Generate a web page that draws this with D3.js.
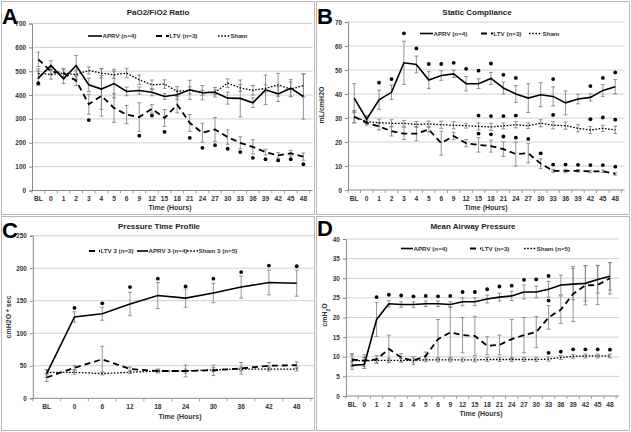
<!DOCTYPE html>
<html><head><meta charset="utf-8">
<script src="https://cdn.jsdelivr.net/npm/d3@7/dist/d3.min.js"></script>
<style>
html,body{margin:0;padding:0;background:#fff;}
svg{display:block;font-family:"Liberation Sans",Arial,sans-serif;}
</style></head><body>
<svg id="c" width="631" height="432"></svg>
<script>
// ---------- DATA ----------
const catsLong = ["BL","0","1","2","3","4","5","6","9","12","15","18","21","24","27","30","33","36","39","42","45","48"];
const catsC = ["BL","0","6","12","18","24","30","36","42","48"];

// Panel A: PaO2/FiO2 Ratio
const yTicksA = [0,100,200,300,400,500,600,700];
const aprvA = [471,524,468,524,443,425,448,415,419,412,394,401,422,410,412,387,386,368,422,405,429,394];
const aprvAErr = [30,20,20,42,28,85,60,18,15,15,12,20,40,30,20,25,77,20,62,32,36,95];
const ltvA = [550,499,492,460,362,397,346,318,308,342,304,360,283,242,256,224,200,183,161,147,156,142];
const ltvAErr = [30,15,15,20,42,85,60,38,60,18,35,35,35,40,50,30,25,30,12,12,12,15];
const shamA = [490,487,492,486,503,492,485,492,464,443,446,415,420,410,412,450,430,420,428,443,425,440];
const shamAErr = [20,20,20,20,15,20,15,20,20,20,18,20,15,10,10,18,15,20,15,48,30,48];
const dotsACats = ["BL","3","9","12","15","21","24","27","30","33","36","39","42","45","48"];
const dotsAVals = [450,295,230,314,246,221,179,190,175,161,137,131,126,131,110];

// Panel B: Static Compliance
const yTicksB = [0,10,20,30,40,50,60,70];
const aprvB = [38.3,29.5,37.6,40.7,53,52.3,45.8,47.7,48.4,44.3,44.3,46.5,42.5,40,38.3,39.7,39,36.3,37.9,38.6,41.5,43];
const aprvBErr = [6,1.5,4,3,9,3.5,3.5,2,1.5,3,2,2.5,2.5,3.5,6,5,4,5,2,1.5,2.5,3];
const ltvB = [30.5,28,26.5,24.5,23.5,23.5,25.2,19.5,22.5,19.5,18.8,18.3,17,15,15.3,11,8,8,8,7.7,7.8,6.7];
const ltvBErr = [2.5,1,1.5,2,2.5,3,1,5,1.5,1.5,3,2.5,3,5,4,2,0.6,0.6,0.5,0.5,0.5,0.5];
const shamB = [30.5,28.5,28,27.8,27.8,27.3,27.5,27.2,27,26.8,26.5,26.3,26.7,27.2,26.8,27.8,27,26.8,25.7,25,25.7,25];
const shamBErr = [2.5,1,1.5,1.5,1.2,1.2,1.2,1.5,1.5,1,1.5,1.5,1.2,1.3,1.2,1.5,1.5,1.5,1.5,1.5,1.3,1.5];
const dotsBCats = ["1","2","3","4","5","6","9","12","15","18","21","24","33","42","45","48",
  "15","18","21","24","33","42","45","48",
  "15","18","21","24","27","30","33","36","39","42","45","48"];
const dotsBVals = [44.7,46.2,65.3,59,52.5,52.5,53,50.5,49.7,52.7,48,46.7,46.2,43.3,46.7,49,
  31,30.8,30.8,31,31.3,29.5,30.2,29.3,
  23.5,23.2,22.3,21.8,21.3,15.3,10.6,10.6,10.5,10.4,10.4,9.7];

// Panel C: Pressure Time Profile
const yTicksC = [0,50,100,150,200,250];
const ltvC = [32,47,60,45,42,42,43,46,50,51];
const ltvCErr = [6,3,20,3,3,9,8,9,5,5];
const aprvC = [38,125,130,145,158,154,162,171,178,177];
const aprvCErr = [6,8,10,18,20,14,15,17,19,20];
const shamC = [40,40,38,40,42,42,44,45,45,45];
const shamCErr = [4,3,2,2,2,3,3,3,3,3];
const dotsCCats = ["0","6","12","18","24","30","36","42","48"];
const dotsCVals = [139,146,171,184,172,184,194,204,203];

// Panel D: Mean Airway Pressure
const yTicksD = [0,5,10,15,20,25,30,35,40];
const aprvD = [7.8,8,19.5,23.5,23.3,23.3,23.5,23.5,23.3,24,24,24.7,25.2,25.5,26.5,26.5,27.2,28.3,28.5,28.7,29.7,30.5];
const aprvDErr = [1,1,4.3,0.8,0.7,0.7,0.7,0.7,0.7,1,1,1,1,1.2,1.8,1.5,2,2.5,4,4.5,3.5,3.5];
const ltvD = [9.3,9,9.3,12,9.8,9,10.2,14.5,16.2,15.5,15.3,12.8,13,14.5,15.5,16.3,20,22,26,28.2,28.3,30];
const ltvDErr = [1.5,1.5,1,3.5,1,1,1,5,6.5,4.5,5,2.3,2.5,5,4.5,4,3,3.5,7,5,5,4];
const shamD = [9,9,9.1,9.1,9.1,9.1,9.2,9.2,9.2,9.2,9.2,9.3,9.3,9.3,9.3,9.3,9.4,9.8,10.1,10.2,10.2,10.2];
const shamDErr = [1.5,0.8,0.5,0.5,0.5,0.5,0.5,0.5,0.5,0.5,0.5,0.5,0.5,0.5,0.5,0.5,0.5,0.5,0.5,0.5,0.5,0.5];
const dotsDCats = ["1","2","3","4","5","6","9","12","15","18","21","24","27","30","33","33","33","36","39","42","45","48"];
const dotsDVals = [25.2,25.8,25.6,25.4,25.5,25.4,25.5,26.5,26.5,27.2,27.9,28.1,29.6,29.7,30.6,24.3,11,11.3,11.9,11.9,11.9,11.8];

// ---------- DRAWING ----------
const svg = d3.select("#c");
const STY = {
  aprv:{dash:null, w:1.6},
  ltv:{dash:"6,4", w:1.8},
  sham:{dash:"1.6,1.6", w:1.3}
};

// panel frames
[[1.5,1.5,313,213],[316.5,1.5,313,213],[1.5,216.5,313,214],[316.5,216.5,313,214]].forEach(r=>{
  svg.append("rect").attr("x",r[0]).attr("y",r[1]).attr("width",r[2]).attr("height",r[3])
    .attr("fill","none").attr("stroke","#b8b8b8").attr("stroke-width",1);
});

function panel(o){
  const g = svg.append("g");
  const x = d3.scaleBand().domain(o.cats).range(o.xr);
  const y = d3.scaleLinear().domain([0, o.yTicks[o.yTicks.length-1]]).range(o.yr);
  const cx = c => x(c) + x.bandwidth()/2;
  // gridlines
  g.selectAll(".grid").data(o.yTicks.slice(1)).enter().append("line")
    .attr("x1",o.xr[0]).attr("x2",o.xr[1]+3).attr("y1",d=>y(d)).attr("y2",d=>y(d))
    .attr("stroke","#c4c4c4").attr("stroke-width",0.8);
  // y axis
  const ya = g.append("g").attr("transform",`translate(${o.xr[0]},0)`)
    .call(d3.axisLeft(y).tickValues(o.yTicks).tickSize(3).tickPadding(3));
  ya.select(".domain").attr("stroke","#8a8a8a");
  ya.selectAll(".tick line").attr("stroke","#8a8a8a");
  ya.selectAll("text").attr("font-size",6.4).attr("font-weight","bold").attr("fill","#333");
  // x axis
  const xa = g.append("g").attr("transform",`translate(0,${o.yr[0]})`)
    .call(d3.axisBottom(x).tickSize(0).tickPadding(6));
  xa.select(".domain").attr("stroke","#8a8a8a").attr("d",`M${o.xr[0]},0H${o.xr[1]+3}`);
  xa.selectAll("text").attr("font-size",6.6).attr("font-weight","bold").attr("fill","#333");
  // x ticks at band boundaries
  g.selectAll(".xt").data(o.cats.concat(["__end"])).enter().append("line")
    .attr("x1",(d,i)=>o.xr[0]+i*x.step()).attr("x2",(d,i)=>o.xr[0]+i*x.step())
    .attr("y1",o.yr[0]).attr("y2",o.yr[0]+3).attr("stroke","#8a8a8a").attr("stroke-width",0.8);

  // error bars
  o.series.forEach(s=>{
    const eg = g.append("g").attr("stroke","#7a7a7a").attr("stroke-width",0.8);
    s.v.forEach((v,i)=>{
      const c = cx(o.cats[i]), e = s.e[i];
      const t = y(v+e), b = y(Math.max(0,v-e));
      eg.append("line").attr("x1",c).attr("x2",c).attr("y1",t).attr("y2",b);
      eg.append("line").attr("x1",c-2).attr("x2",c+2).attr("y1",t).attr("y2",t);
      eg.append("line").attr("x1",c-2).attr("x2",c+2).attr("y1",b).attr("y2",b);
    });
  });
  // lines
  o.series.forEach(s=>{
    const st = STY[s.k];
    const ln = d3.line().x((d,i)=>cx(o.cats[i])).y(d=>y(d));
    g.append("path").datum(s.v).attr("d",ln).attr("fill","none").attr("stroke","#000")
      .attr("stroke-width",st.w).attr("stroke-dasharray",st.dash);
  });
  // significance dots
  g.selectAll(".dot").data(o.dotCats).enter().append("circle")
    .attr("cx",d=>cx(d)).attr("cy",(d,i)=>y(o.dotVals[i])).attr("r",1.9).attr("fill","#000");

  // title
  svg.append("text").attr("x",o.title[1]).attr("y",o.title[2]).attr("text-anchor","middle")
    .attr("font-size",8).attr("font-weight","bold").attr("fill","#222").text(o.title[0]);
  // panel letter
  svg.append("text").attr("x",o.letter[1]).attr("y",o.letter[2])
    .attr("font-size",22).attr("font-weight","bold").attr("fill","#000").text(o.letter[0]);
  // x title
  svg.append("text").attr("x",o.xt[0]).attr("y",o.xt[1]).attr("text-anchor","middle")
    .attr("font-size",7).attr("font-weight","bold").attr("fill","#333").text("Time (Hours)");
  // y title
  if(o.yt){
    const t = svg.append("text").attr("transform",`translate(${o.yt[1]},${o.yt[2]}) rotate(-90)`)
      .attr("text-anchor","middle").attr("font-size",7).attr("font-weight","bold").attr("fill","#333");
    if(o.ysub){
      t.append("tspan").text(o.yt[0]);
      t.append("tspan").attr("baseline-shift","sub").attr("font-size",5).text("2");
      t.append("tspan").text("O");
    } else t.text(o.yt[0]);
  }
  // legend
  o.legend.forEach(l=>{
    const st = STY[l.k];
    svg.append("line").attr("x1",l.x).attr("x2",l.x+l.w).attr("y1",o.ly).attr("y2",o.ly)
      .attr("stroke","#000").attr("stroke-width",st.w).attr("stroke-dasharray",st.dash);
    svg.append("text").attr("x",l.x+l.w+0.5).attr("y",o.ly+2.3).attr("font-size",6.2).attr("font-weight","bold")
      .attr("fill","#333").text(l.t);
  });
}

panel({
  cats:catsLong, xr:[32,309.7], yr:[190.5,23.5], yTicks:yTicksA,
  series:[{k:"sham",v:shamA,e:shamAErr},{k:"ltv",v:ltvA,e:ltvAErr},{k:"aprv",v:aprvA,e:aprvAErr}],
  dotCats:dotsACats, dotVals:dotsAVals,
  title:["PaO2/FiO2 Ratio",158,15], letter:["A",2,24], xt:[170,210],
  ly:36, legend:[{k:"aprv",x:88,w:14,t:"APRV (n=4)"},{k:"ltv",x:156,w:13,t:"LTV (n=3)"},{k:"sham",x:218,w:12,t:"Sham"}]
});
panel({
  cats:catsLong, xr:[348,621.5], yr:[190,22], yTicks:yTicksB,
  series:[{k:"sham",v:shamB,e:shamBErr},{k:"ltv",v:ltvB,e:ltvBErr},{k:"aprv",v:aprvB,e:aprvBErr}],
  dotCats:dotsBCats, dotVals:dotsBVals,
  title:["Static Compliance",477,15], letter:["B",317,24], xt:[486,210],
  yt:["mL/cmH2O",324,105],
  ly:33.5, legend:[{k:"aprv",x:420,w:13,t:"APRV (n=4)"},{k:"ltv",x:481,w:12,t:"LTV (n=3)"},{k:"sham",x:529,w:13,t:"Sham"}]
});
panel({
  cats:catsC, xr:[32.8,310.6], yr:[398.3,235.7], yTicks:yTicksC,
  series:[{k:"sham",v:shamC,e:shamCErr},{k:"ltv",v:ltvC,e:ltvCErr},{k:"aprv",v:aprvC,e:aprvCErr}],
  dotCats:dotsCCats, dotVals:dotsCVals,
  title:["Pressure Time Profile",159,229], letter:["C",2,238], xt:[180,419],
  yt:["cmH2O * sec",11,317],
  ly:251, legend:[{k:"ltv",x:89,w:11,t:"LTV 3 (n=3)"},{k:"aprv",x:137,w:11,t:"APRV 3 (n=4)"},{k:"sham",x:187,w:11,t:"Sham 3 (n=5)"}]
});
panel({
  cats:catsLong, xr:[345.9,616.1], yr:[396,239], yTicks:yTicksD,
  series:[{k:"sham",v:shamD,e:shamDErr},{k:"ltv",v:ltvD,e:ltvDErr},{k:"aprv",v:aprvD,e:aprvDErr}],
  dotCats:dotsDCats, dotVals:dotsDVals,
  title:["Mean Airway Pressure",473,229], letter:["D",317,236], xt:[481,416],
  yt:["cmH",327,315], ysub:true,
  ly:248.5, legend:[{k:"aprv",x:401,w:12,t:"APRV (n=4)"},{k:"ltv",x:470,w:11,t:"LTV (n=3)"},{k:"sham",x:524,w:12,t:"Sham (n=5)"}]
});
</script>
</body></html>
